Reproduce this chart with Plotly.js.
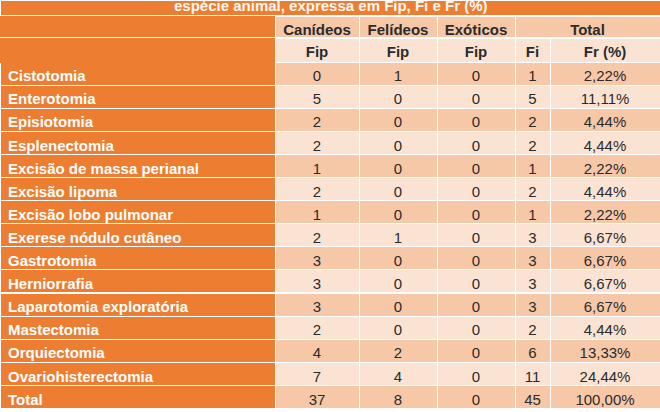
<!DOCTYPE html>
<html>
<head>
<meta charset="utf-8">
<script src="https://cdn.plot.ly/plotly-3.0.1.min.js"></script>
<style>
  html, body { margin: 0; padding: 0; background: #ffffff; }
  #chart { width: 660px; height: 412px; }
</style>
</head>
<body>
<div id="chart"></div>
<script>
const titleText = 'espécie animal, expressa em Fip, Fi e Fr (%)';
const species = ['Canídeos', 'Felídeos', 'Exóticos', 'Total'];
const subHeaders = ['Fip', 'Fip', 'Fip', 'Fi', 'Fr (%)'];

const procedures = [
  'Cistotomia', 'Enterotomia', 'Episiotomia', 'Esplenectomia',
  'Excisão de massa perianal', 'Excisão lipoma', 'Excisão lobo pulmonar',
  'Exerese nódulo cutâneo', 'Gastrotomia', 'Herniorrafia',
  'Laparotomia exploratória', 'Mastectomia', 'Orquiectomia',
  'Ovariohisterectomia', 'Total'
];
const canideos = [0, 5, 2, 2, 1, 2, 1, 2, 3, 3, 3, 2, 4, 7, 37];
const felideos = [1, 0, 0, 0, 0, 0, 0, 1, 0, 0, 0, 0, 2, 4, 8];
const exoticos = [0, 0, 0, 0, 0, 0, 0, 0, 0, 0, 0, 0, 0, 0, 0];
const fi = [1, 5, 2, 2, 1, 2, 1, 3, 3, 3, 3, 2, 6, 11, 45];
const fr = [2.22, 11.11, 4.44, 4.44, 2.22, 4.44, 2.22, 6.67, 6.67, 6.67, 6.67, 4.44, 13.33, 24.44, 100.00];

const ORANGE = '#ED7D31';
const DARK = '#F7C8A8';
const LIGHT = '#FBE3D4';
const TEXT = '#2b2b2b';
const H = 412;

const frLabels = fr.map(v => v.toFixed(2).replace('.', ',') + '%');
const rowFill = procedures.map((_, i) => (i % 2 === 0 ? DARK : LIGHT));
const widths = [275, 84, 78, 78, 35, 110];
const baseFont = { family: 'Liberation Sans, Arial, sans-serif', size: 15 };

// first header row, "Total" spans Fi + Fr
const headerTop = {
  type: 'table',
  domain: { x: [0, 1], y: [1 - 38 / H, 1 - 16 / H] },
  columnwidth: [275, 84, 78, 78, 145],
  header: {
    values: [''].concat(species),
    height: 22,
    align: 'center',
    fill: { color: [ORANGE, DARK, DARK, DARK, DARK] },
    line: { color: [ORANGE, 'white', 'white', 'white', 'white'], width: 1 },
    font: Object.assign({}, baseFont, { color: TEXT, weight: 'bold' })
  },
  cells: { values: [[], [], [], [], []] }
};

const mainTable = {
  type: 'table',
  domain: { x: [0, 1], y: [0, 1 - 38 / H] },
  columnwidth: widths,
  header: {
    values: [''].concat(subHeaders),
    height: 24,
    align: 'center',
    fill: { color: [ORANGE, LIGHT, LIGHT, LIGHT, LIGHT, LIGHT] },
    line: { color: [ORANGE, 'white', 'white', 'white', 'white', 'white'], width: 1 },
    font: Object.assign({}, baseFont, { color: TEXT, weight: 'bold' })
  },
  cells: {
    values: [procedures, canideos, felideos, exoticos, fi, frLabels],
    height: 23.1,
    align: ['left', 'center', 'center', 'center', 'center', 'center'],
    fill: { color: [procedures.map(() => ORANGE), rowFill, rowFill, rowFill, rowFill, rowFill] },
    line: { color: 'white', width: 1 },
    font: {
      family: baseFont.family,
      size: 15,
      color: ['white', TEXT, TEXT, TEXT, TEXT, TEXT],
      weight: ['bold', 'normal', 'normal', 'normal', 'normal', 'normal']
    }
  }
};

// orange strip behind the (cut) title line
const titleTable = {
  type: 'table',
  domain: { x: [0, 1], y: [1 - 16 / H, 1] },
  columnwidth: [660],
  header: {
    values: [''],
    height: 16,
    fill: { color: ORANGE },
    line: { color: 'white', width: 1 }
  },
  cells: { values: [[]] }
};

const layout = {
  width: 660,
  height: 412,
  margin: { t: 0, r: 0, b: 0, l: 0 },
  paper_bgcolor: '#ffffff',
  annotations: [{
    text: titleText,
    xref: 'paper', yref: 'paper',
    x: 0.5, y: 1 - 6 / H,
    xanchor: 'center', yanchor: 'middle',
    showarrow: false,
    font: Object.assign({}, baseFont, { color: '#fff8f0', weight: 'bold' })
  }]
};

Plotly.newPlot('chart', [headerTop, mainTable, titleTable], layout, { displayModeBar: false, staticPlot: true });
</script>
</body>
</html>
